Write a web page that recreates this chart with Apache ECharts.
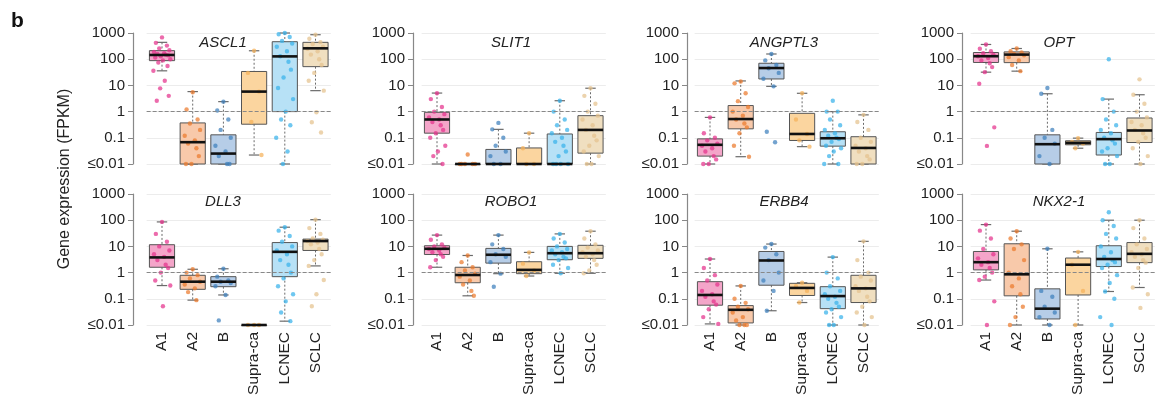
<!DOCTYPE html>
<html>
<head>
<meta charset="utf-8">
<script src="https://cdn.jsdelivr.net/npm/echarts@6/dist/echarts.min.js"></script>
<style>
  html, body { margin: 0; padding: 0; background: #fff; }
  #main { width: 1160px; height: 398px; }
</style>
</head>
<body>
<div id="main"></div>
<script>
var groups = ['A1', 'A2', 'B', 'Supra-ca', 'LCNEC', 'SCLC'];
var genes = ['ASCL1', 'SLIT1', 'ANGPTL3', 'OPT', 'DLL3', 'ROBO1', 'ERBB4', 'NKX2-1'];
var yTickLabels = ['≤0.01', '0.1', '1', '10', '100', '1000'];

// box stats per group: [min, q1, median, q3, max]
var ascl1Box = [[36, 88, 145, 212, 440], [0.01, 0.01, 0.068, 0.37, 5.8], [0.01, 0.01, 0.025, 0.13, 2.4],
  [0.022, 0.33, 5.8, 34, 210], [0.01, 1, 128, 465, 1000], [6.3, 52, 260, 440, 860]];
var slit1Box = [[0.01, 0.15, 0.5, 0.94, 5.1], [0.01, 0.01, 0.01, 0.01, 0.01], [0.01, 0.01, 0.01, 0.036, 0.21],
  [0.01, 0.01, 0.01, 0.041, 0.15], [0.01, 0.01, 0.01, 0.14, 2.6], [0.01, 0.026, 0.2, 0.7, 7.8]];
var angptl3Box = [[0.01, 0.02, 0.054, 0.091, 0.6], [0.019, 0.22, 0.52, 1.7, 14.8], [9.2, 17.6, 46, 70, 158],
  [0.046, 0.079, 0.14, 0.86, 5], [0.01, 0.048, 0.096, 0.17, 1.0], [0.01, 0.01, 0.041, 0.11, 0.75]];
var optBox = [[32, 75, 130, 180, 365], [35, 74, 150, 190, 256], [0.01, 0.01, 0.057, 0.13, 4.8],
  [0.04, 0.054, 0.064, 0.077, 0.097], [0.01, 0.022, 0.089, 0.16, 3], [0.01, 0.066, 0.19, 0.57, 4.4]];
var dll3Box = [[0.32, 1.6, 3.8, 11.6, 86], [0.089, 0.23, 0.45, 0.79, 1.34], [0.14, 0.29, 0.45, 0.7, 1.4],
  [0.01, 0.01, 0.01, 0.01, 0.01], [0.014, 0.7, 6.2, 14, 54], [1.8, 7, 16, 19, 105]];
var robo1Box = [[1.6, 4.9, 8.1, 10.6, 27], [0.13, 0.41, 0.81, 1.6, 4.5], [0.91, 2.3, 4.8, 8.4, 27],
  [0.74, 0.91, 1.27, 2.6, 5.9], [0.94, 3.1, 5.5, 10, 30], [0.94, 3.5, 5.5, 11, 38]];
var erbb4Box = [[0.011, 0.057, 0.14, 0.45, 3.3], [0.01, 0.012, 0.038, 0.055, 0.31], [0.035, 0.33, 2.9, 6.4, 12.3],
  [0.072, 0.134, 0.26, 0.39, 0.41], [0.01, 0.042, 0.127, 0.29, 3.9], [0.01, 0.072, 0.25, 0.79, 15.6]];
var nkx21Box = [[0.52, 1.27, 2.5, 6.4, 68], [0.01, 0.13, 0.86, 12.6, 38], [0.01, 0.017, 0.042, 0.24, 8.1],
  [0.01, 0.14, 2.0, 3.6, 6.2], [0.19, 1.7, 3.3, 10.6, 100], [0.27, 2.4, 5.2, 14, 100]];

// individual samples per group (≤0.01 shown at 0.01)
var ascl1Pts = [
  [680, 420, 330, 260, 220, 190, 170, 160, 150, 140, 130, 115, 100, 90, 75, 55, 36, 15, 7.7, 4, 2.6],
  [5.5, 1.2, 0.5, 0.35, 0.2, 0.12, 0.08, 0.06, 0.04, 0.02, 0.01, 0.01],
  [2.4, 1.1, 0.5, 0.2, 0.1, 0.05, 0.03, 0.02, 0.01, 0.01],
  [210, 30, 5.8, 0.4, 0.022],
  [1000, 900, 700, 500, 400, 300, 200, 130, 80, 40, 20, 8, 3, 1, 0.5, 0.3, 0.1, 0.03, 0.01],
  [860, 600, 450, 380, 300, 250, 200, 150, 100, 60, 30, 15, 6.3, 0.94, 0.39, 0.16]];
var slit1Pts = [
  [5, 3, 1.5, 1, 0.8, 0.6, 0.5, 0.4, 0.3, 0.2, 0.15, 0.1, 0.05, 0.03, 0.02, 0.01],
  [0.023, 0.01, 0.01, 0.01, 0.01, 0.01],
  [0.37, 0.21, 0.1, 0.05, 0.03, 0.02, 0.01, 0.01],
  [0.15, 0.04, 0.01, 0.01],
  [2.6, 1, 0.5, 0.3, 0.2, 0.15, 0.1, 0.07, 0.05, 0.03, 0.02, 0.01, 0.01, 0.01, 0.01],
  [7.8, 4, 2, 1, 0.7, 0.5, 0.3, 0.2, 0.12, 0.08, 0.05, 0.03, 0.02, 0.01, 0.01]];
var angptl3Pts = [
  [0.6, 0.15, 0.1, 0.08, 0.06, 0.05, 0.04, 0.03, 0.02, 0.015, 0.01, 0.01],
  [14, 12, 5, 2.5, 1.5, 1, 0.7, 0.5, 0.35, 0.25, 0.15, 0.05, 0.019],
  [158, 90, 60, 45, 30, 18, 9.2, 0.17, 0.068],
  [5, 0.5, 0.14, 0.08, 0.046],
  [2.6, 1, 1, 0.5, 0.3, 0.2, 0.15, 0.12, 0.1, 0.09, 0.07, 0.05, 0.04, 0.03, 0.02, 0.01, 0.01],
  [0.75, 0.4, 0.2, 0.1, 0.07, 0.05, 0.04, 0.03, 0.02, 0.015, 0.01, 0.01]];
var optPts = [
  [365, 250, 200, 170, 150, 130, 110, 90, 70, 50, 32, 11.6, 0.25, 0.049],
  [256, 200, 180, 160, 140, 120, 90, 60, 35],
  [8, 4.8, 0.2, 0.1, 0.06, 0.02, 0.01],
  [0.097, 0.07, 0.06, 0.04],
  [100, 3, 1, 0.5, 0.3, 0.2, 0.15, 0.1, 0.08, 0.06, 0.04, 0.03, 0.02, 0.01, 0.01],
  [17, 4.4, 2, 1, 0.6, 0.4, 0.3, 0.2, 0.15, 0.1, 0.07, 0.04, 0.02, 0.01]];
var dll3Pts = [
  [86, 30, 15, 10, 7, 5, 4, 3, 2, 1.5, 1, 0.5, 0.32, 0.052],
  [1.34, 1, 0.8, 0.6, 0.45, 0.35, 0.25, 0.18, 0.089],
  [1.4, 0.7, 0.5, 0.45, 0.4, 0.3, 0.14, 0.015],
  [0.01, 0.01, 0.01],
  [54, 40, 25, 15, 10, 7, 5, 3, 2, 1, 0.6, 0.3, 0.15, 0.08, 0.03, 0.014],
  [105, 50, 30, 20, 18, 16, 14, 12, 8, 5, 3, 1.8, 0.52, 0.15, 0.052]];
var robo1Pts = [
  [27, 18, 12, 10, 9, 8, 7, 6, 5, 4, 3, 1.6],
  [4.5, 2.5, 1.6, 1.2, 0.9, 0.7, 0.5, 0.35, 0.2, 0.13],
  [27, 12, 8, 5, 4, 2.5, 0.91, 0.29],
  [5.9, 2.2, 1.2, 0.74],
  [30, 20, 14, 10, 8, 7, 6, 5, 4, 3.5, 3, 2, 1.5, 0.94],
  [38, 20, 12, 9, 7, 6, 5, 4, 3, 2, 1.2, 0.94]];
var erbb4Pts = [
  [3.3, 1.5, 0.8, 0.5, 0.35, 0.2, 0.15, 0.12, 0.08, 0.06, 0.04, 0.02, 0.011],
  [0.31, 0.1, 0.07, 0.05, 0.04, 0.03, 0.02, 0.015, 0.01, 0.01, 0.01],
  [12.3, 9, 5, 3, 1, 0.5, 0.2, 0.035],
  [0.41, 0.3, 0.2, 0.072],
  [3.9, 1, 0.6, 0.3, 0.2, 0.15, 0.12, 0.1, 0.07, 0.05, 0.04, 0.03, 0.02, 0.01, 0.01],
  [15.6, 3, 1, 0.7, 0.5, 0.3, 0.25, 0.2, 0.12, 0.08, 0.05, 0.03, 0.02, 0.01]];
var nkx21Pts = [
  [68, 40, 20, 8, 5, 3.5, 2.5, 2, 1.5, 1, 0.7, 0.52, 0.08, 0.01],
  [38, 20, 12, 8, 3, 1, 0.6, 0.3, 0.15, 0.05, 0.02, 0.01],
  [8.1, 0.2, 0.12, 0.05, 0.03, 0.02, 0.01],
  [6.2, 2, 0.2, 0.01],
  [200, 100, 60, 30, 20, 10, 6, 4, 3, 2.5, 2, 1.5, 0.8, 0.4, 0.19, 0.1, 0.02, 0.01],
  [100, 50, 20, 12, 8, 6, 5, 4, 3, 2.4, 1.5, 0.27, 0.15, 0.045]];

var boxes = [ascl1Box, slit1Box, angptl3Box, optBox, dll3Box, robo1Box, erbb4Box, nkx21Box];
var points = [ascl1Pts, slit1Pts, angptl3Pts, optPts, dll3Pts, robo1Pts, erbb4Pts, nkx21Pts];

var pointColors = ['#e5328c', '#ec7a2c', '#3d7fbd', '#f5b25a', '#37b2ea', '#e5c28e'];
var boxFill = ['#f4a5c9', '#f8c9aa', '#b6cde7', '#fbd59f', '#b7e1f6', '#f0dfc0'];
// horizontal spread of the dots, as a fraction of the band width
var jitter = [0, -0.2, 0.16, -0.09, 0.24, -0.26, 0.07, -0.15, 0.12, 0.2, -0.04, -0.22, 0.27, 0.03, -0.12, 0.18, -0.28, 0.09, -0.06, 0.22, -0.17];

// layout
var axisX = [133, 413, 687, 962];
var firstCenter = [162, 437, 710, 986];
var band = 30.7;
var rowTop = [33, 194];
var rowHeight = 131;
var titleX = [223, 511, 784, 1059];
var titleY = [43, 202];
var font = '"Liberation Sans", Arial, sans-serif';

function bandWidth(api) {
  return api.coord([1, 1])[0] - api.coord([0, 1])[0];
}

function renderBox(params, api) {
  var i = api.value(0);
  var lo = api.coord([i, api.value(1)]);
  var q1 = api.coord([i, api.value(2)]);
  var q3 = api.coord([i, api.value(4)]);
  var hi = api.coord([i, api.value(5)]);
  var bw = bandWidth(api);
  var half = bw * 0.41, cap = bw * 0.17, x = lo[0];
  var dash = { stroke: '#6b6b6b', lineWidth: 1, lineDash: [2, 2] };
  var solid = { stroke: '#6b6b6b', lineWidth: 1.2 };
  return {
    type: 'group',
    children: [
      { type: 'line', shape: { x1: x, y1: hi[1], x2: x, y2: q3[1] }, style: dash },
      { type: 'line', shape: { x1: x, y1: q1[1], x2: x, y2: lo[1] }, style: dash },
      { type: 'line', shape: { x1: x - cap, y1: hi[1], x2: x + cap, y2: hi[1] }, style: solid },
      { type: 'line', shape: { x1: x - cap, y1: lo[1], x2: x + cap, y2: lo[1] }, style: solid },
      { type: 'rect', shape: { x: x - half, y: q3[1], width: half * 2, height: Math.max(q1[1] - q3[1], 0.5) },
        style: { fill: boxFill[i], stroke: '#555', lineWidth: 1 } }
    ]
  };
}

function renderMedian(params, api) {
  var i = api.value(0);
  var md = api.coord([i, api.value(3)]);
  var half = bandWidth(api) * 0.41;
  return { type: 'line', shape: { x1: md[0] - half, y1: md[1], x2: md[0] + half, y2: md[1] },
    style: { stroke: '#111', lineWidth: 2.6 } };
}

function renderPoint(params, api) {
  var i = api.value(0);
  var p = api.coord([i, api.value(1)]);
  var off = jitter[api.value(2) % jitter.length] * bandWidth(api);
  return { type: 'circle', shape: { cx: p[0] + off, cy: p[1], r: 2.2 },
    style: { fill: pointColors[i], opacity: 0.72 } };
}

var grids = [], xAxes = [], yAxes = [], series = [], graphics = [];

genes.forEach(function (gene, k) {
  var row = Math.floor(k / 4), col = k % 4;
  var left = firstCenter[col] - band / 2;
  grids.push({ left: left, top: rowTop[row], width: band * 6, height: rowHeight });
  xAxes.push({
    type: 'category', gridIndex: k, data: groups, boundaryGap: true,
    axisLine: { show: false }, axisTick: { show: false }, splitLine: { show: false },
    axisLabel: { show: row === 1, rotate: 90, interval: 0, margin: 7, fontSize: 15.5, color: '#222', fontFamily: font }
  });
  yAxes.push({
    type: 'log', logBase: 10, gridIndex: k, min: 0.01, max: 1000, offset: left - axisX[col],
    axisLine: { show: true, lineStyle: { color: '#888', width: 1.2 } },
    axisTick: { show: true, length: 5, lineStyle: { color: '#888' } },
    axisLabel: { fontSize: 15, color: '#222', margin: 8, fontFamily: font,
      formatter: function (v) { return yTickLabels[Math.round(Math.log10(v)) + 2]; } },
    splitLine: { show: true, lineStyle: { color: '#ececec' } }
  });

  var boxData = boxes[k].map(function (b, i) { return [i].concat(b); });
  var ptData = [];
  points[k].forEach(function (vals, i) {
    vals.forEach(function (v, j) { ptData.push([i, v, j]); });
  });

  series.push({
    type: 'custom', xAxisIndex: k, yAxisIndex: k, z: 2, silent: true,
    renderItem: renderBox, data: boxData, encode: { x: 0, y: [1, 2, 3, 4, 5] },
    markLine: { silent: true, symbol: 'none', label: { show: false }, animation: false,
      lineStyle: { type: 'dashed', color: '#888', width: 1 }, data: [{ yAxis: 1 }] }
  });
  series.push({
    type: 'custom', xAxisIndex: k, yAxisIndex: k, z: 3, silent: true,
    renderItem: renderPoint, data: ptData, encode: { x: 0, y: 1 }
  });
  series.push({
    type: 'custom', xAxisIndex: k, yAxisIndex: k, z: 4, silent: true,
    renderItem: renderMedian, data: boxData, encode: { x: 0, y: [1, 2, 3, 4, 5] }
  });

  graphics.push({
    type: 'text', x: titleX[col], y: titleY[row], z: 10,
    style: { text: gene, font: 'italic 15px ' + font, fill: '#222',
      align: 'center', verticalAlign: 'middle', textAlign: 'center', textVerticalAlign: 'middle' }
  });
});

graphics.push({
  type: 'text', x: 11, y: 11,
  style: { text: 'b', font: 'bold 21px ' + font, fill: '#111', verticalAlign: 'top', textVerticalAlign: 'top' }
});
graphics.push({
  type: 'text', x: 65, y: 179, rotation: Math.PI / 2,
  style: { text: 'Gene expression (FPKM)', font: '16px ' + font, fill: '#222',
    align: 'center', verticalAlign: 'middle', textAlign: 'center', textVerticalAlign: 'middle' }
});

var chart = echarts.init(document.getElementById('main'));
chart.setOption({
  animation: false,
  backgroundColor: '#fff',
  grid: grids,
  xAxis: xAxes,
  yAxis: yAxes,
  series: series,
  graphic: graphics
});
</script>
</body>
</html>
